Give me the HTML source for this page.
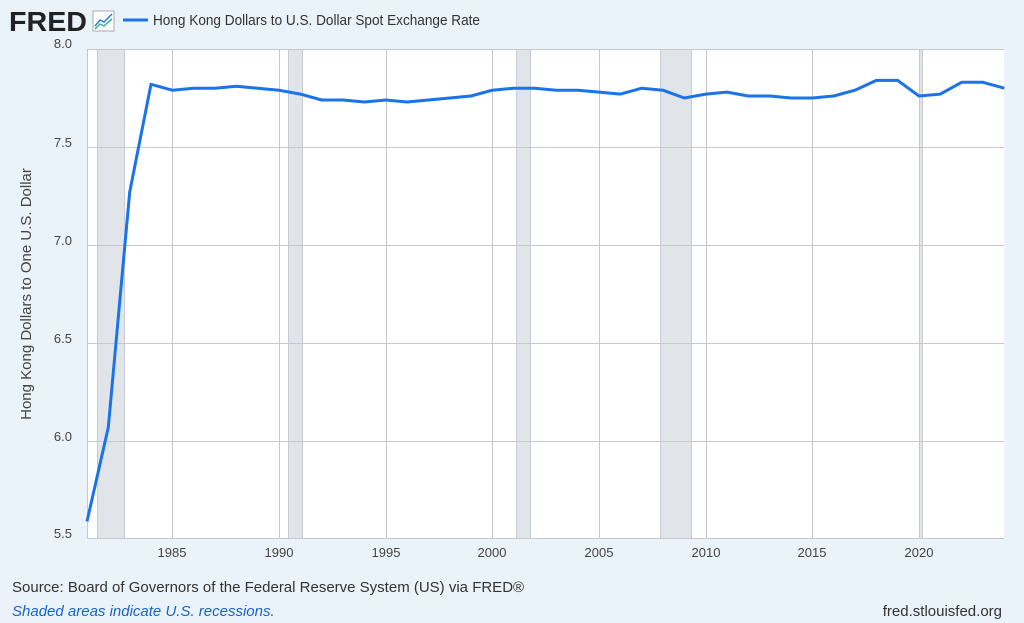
<!DOCTYPE html>
<html><head><meta charset="utf-8"><style>
body{margin:0;background:#eaf2fa;width:1024px;height:623px;overflow:hidden;font-family:"Liberation Sans",sans-serif;}
</style></head><body>
<svg width="1024" height="623" xmlns="http://www.w3.org/2000/svg" style="position:absolute;left:0;top:0">
<rect x="0" y="0" width="1024" height="623" fill="#eaf2fa"/>
<text x="9" y="31" font-family="Liberation Sans" font-weight="bold" font-size="28" fill="#222" textLength="78" lengthAdjust="spacingAndGlyphs">FRED</text>
<rect x="93" y="11" width="21" height="20" fill="#fff" stroke="#aab" stroke-width="1"/>
<polyline points="95,26 100,20 104,22 112,14" fill="none" stroke="#2a7ad8" stroke-width="1.5"/>
<polyline points="95,29 100,24 104,26 112,19" fill="none" stroke="#3bb08f" stroke-width="1.5"/>
<line x1="123" y1="20" x2="148" y2="20" stroke="#1a73e8" stroke-width="3"/>
<text x="153" y="25" font-size="14.5" fill="#333" textLength="327" lengthAdjust="spacingAndGlyphs">Hong Kong Dollars to U.S. Dollar Spot Exchange Rate</text>
<rect x="87" y="49" width="917" height="490" fill="#fff"/>
<g fill="#e1e5ea" stroke="#c8ccd2" stroke-width="1">
<rect x="97.5" y="49.5" width="27" height="489"/>
<rect x="288.5" y="49.5" width="14" height="489"/>
<rect x="516.5" y="49.5" width="14" height="489"/>
<rect x="660.5" y="49.5" width="31" height="489"/>
<rect x="919.5" y="49.5" width="3" height="489"/>
</g>
<g stroke="#c8c8c8" stroke-width="1">
<line x1="87" y1="49.5" x2="1004" y2="49.5"/>
<line x1="87" y1="147.5" x2="1004" y2="147.5"/>
<line x1="87" y1="245.5" x2="1004" y2="245.5"/>
<line x1="87" y1="343.5" x2="1004" y2="343.5"/>
<line x1="87" y1="441.5" x2="1004" y2="441.5"/>
<line x1="87" y1="538.5" x2="1004" y2="538.5"/>
<line x1="172.5" y1="49" x2="172.5" y2="539"/>
<line x1="279.5" y1="49" x2="279.5" y2="539"/>
<line x1="386.5" y1="49" x2="386.5" y2="539"/>
<line x1="492.5" y1="49" x2="492.5" y2="539"/>
<line x1="599.5" y1="49" x2="599.5" y2="539"/>
<line x1="706.5" y1="49" x2="706.5" y2="539"/>
<line x1="812.5" y1="49" x2="812.5" y2="539"/>
<line x1="919.5" y1="49" x2="919.5" y2="539"/>
<line x1="87.5" y1="49" x2="87.5" y2="539"/>
</g>
<polyline fill="none" stroke="#1a73e8" stroke-width="3" stroke-linejoin="round" points="87.0,521.4 108.3,427.3 129.7,192.1 151.0,84.3 172.3,90.2 193.7,88.2 215.0,88.2 236.3,86.2 257.7,88.2 279.0,90.2 300.3,94.1 321.7,100.0 343.0,100.0 364.3,102.0 385.7,100.0 407.0,102.0 428.3,100.0 449.7,98.0 471.0,96.0 492.3,90.2 513.7,88.2 535.0,88.2 556.3,90.2 577.7,90.2 599.0,92.1 620.3,94.1 641.7,88.2 663.0,90.2 684.3,98.0 705.7,94.1 727.0,92.1 748.3,96.0 769.7,96.0 791.0,98.0 812.3,98.0 833.7,96.0 855.0,90.2 876.3,80.4 897.7,80.4 919.0,96.0 940.3,94.1 961.7,82.3 983.0,82.3 1004.3,88.2"/>
<g font-size="13" fill="#444" text-anchor="end">
<text x="72" y="48">8.0</text>
<text x="72" y="147">7.5</text>
<text x="72" y="245">7.0</text>
<text x="72" y="343">6.5</text>
<text x="72" y="441">6.0</text>
<text x="72" y="538">5.5</text>
</g>
<g font-size="13" fill="#444" text-anchor="middle">
<text x="172" y="557">1985</text><text x="279" y="557">1990</text><text x="386" y="557">1995</text>
<text x="492" y="557">2000</text><text x="599" y="557">2005</text><text x="706" y="557">2010</text>
<text x="812" y="557">2015</text><text x="919" y="557">2020</text>
</g>
<text transform="translate(31,294) rotate(-90)" text-anchor="middle" font-size="15" fill="#444">Hong Kong Dollars to One U.S. Dollar</text>
<text x="12" y="592" font-size="15" fill="#333">Source: Board of Governors of the Federal Reserve System (US) via FRED®</text>
<text x="12" y="616" font-size="15" fill="#1a63c8" font-style="italic">Shaded areas indicate U.S. recessions.</text>
<text x="1002" y="616" font-size="15" fill="#333" text-anchor="end">fred.stlouisfed.org</text>
</svg>
</body></html>
